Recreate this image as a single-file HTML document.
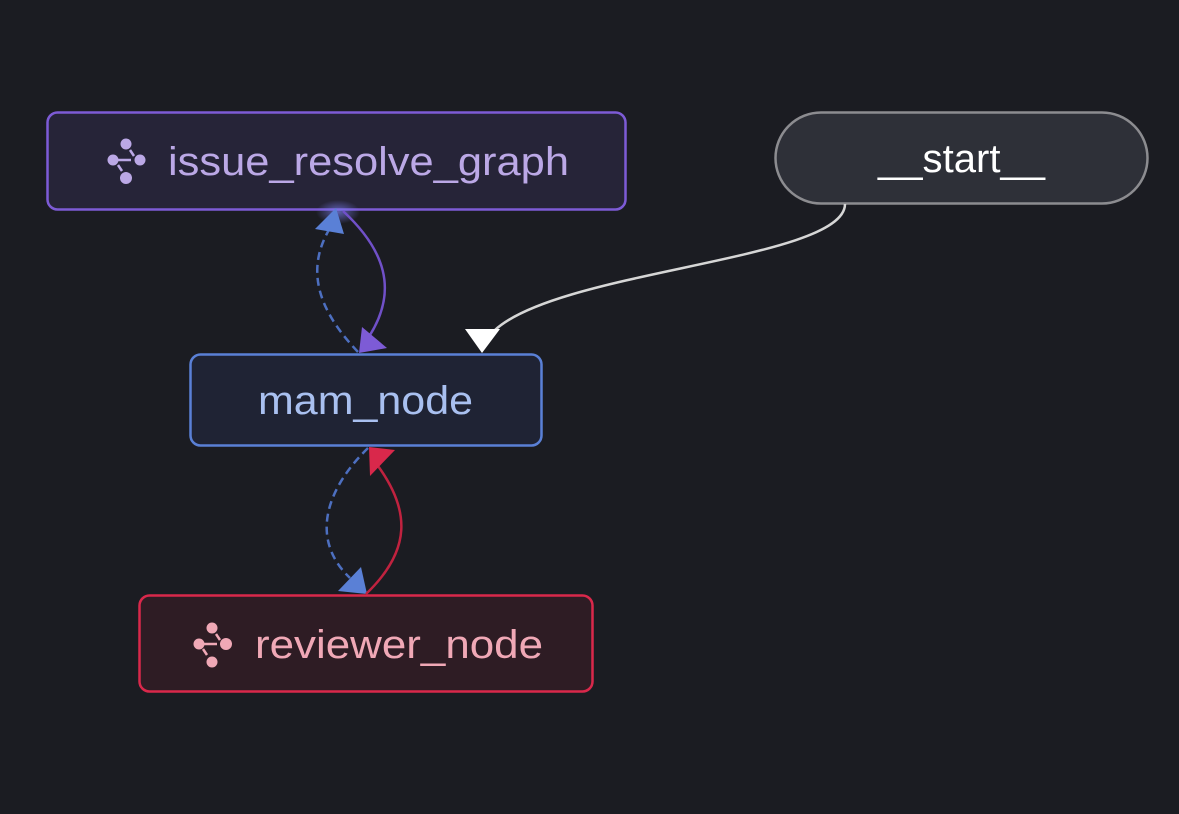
<!DOCTYPE html>
<html><head><style>
html,body{margin:0;padding:0;background:#1b1c22;}
svg{display:block}
text{font-family:"Liberation Sans",sans-serif;}
</style></head><body>
<svg width="1179" height="814" viewBox="0 0 1179 814" xmlns="http://www.w3.org/2000/svg">
<defs>
<radialGradient id="glow" cx="50%" cy="50%" r="50%">
<stop offset="0" stop-color="#7a7cf0" stop-opacity="0.7"/>
<stop offset="1" stop-color="#7a7cf0" stop-opacity="0"/>
</radialGradient>
</defs>
<rect width="1179" height="814" fill="#1b1c22"/>

<rect x="47.5" y="112.5" width="578" height="97" rx="10" fill="#262438" stroke="#7d5bd6" stroke-width="2.5"/>
<rect x="775.5" y="112.5" width="372" height="91" rx="45.5" fill="#2e3038" stroke="#8c8c90" stroke-width="2.5"/>
<rect x="190.5" y="354.5" width="351" height="91" rx="10" fill="#1f2334" stroke="#5a80d6" stroke-width="2.5"/>
<rect x="139.5" y="595.5" width="453" height="96" rx="10" fill="#2e1c24" stroke="#d9284b" stroke-width="2.5"/>
<ellipse cx="338" cy="212" rx="22" ry="12" fill="url(#glow)"/>

<g fill="#bba8e6" stroke="#bba8e6">
<circle cx="126" cy="144" r="5.5" stroke="none"/>
<circle cx="140" cy="160" r="5.5" stroke="none"/>
<circle cx="126" cy="178" r="6" stroke="none"/>
<circle cx="113" cy="160" r="5.5" stroke="none"/>
<path d="M113 160 H131 M130 150 L134 156 M118 165 L122 171" stroke-width="2.5" fill="none"/>
</g>
<g fill="#f0a8b6" stroke="#f0a8b6">
<circle cx="212" cy="628" r="5.5" stroke="none"/>
<circle cx="226" cy="644" r="6" stroke="none"/>
<circle cx="212" cy="662" r="5.5" stroke="none"/>
<circle cx="199" cy="644" r="5.5" stroke="none"/>
<path d="M199 644 H217 M216 634 L220 640 M203 649 L207 655" stroke-width="2.5" fill="none"/>
</g>

<text x="168" y="175" font-size="40" fill="#bba8e6" textLength="401" lengthAdjust="spacingAndGlyphs">issue_resolve_graph</text>
<text x="878" y="172" font-size="40" fill="#ffffff" textLength="167" lengthAdjust="spacingAndGlyphs">__start__</text>
<text x="258" y="414" font-size="40" fill="#a9c0f0" textLength="215" lengthAdjust="spacingAndGlyphs">mam_node</text>
<text x="255" y="658" font-size="40" fill="#f0a8b6" textLength="288" lengthAdjust="spacingAndGlyphs">reviewer_node</text>

<path d="M845 204 C845 260 560 270 495 330" fill="none" stroke="#d6d6d6" stroke-width="2.5"/>
<polygon points="465,329 500,329 482,353" fill="#ffffff"/>

<path d="M358 352 C318 310 305 270 330 228" fill="none" stroke="#4d6fc0" stroke-width="2.5" stroke-dasharray="8,5"/>
<polygon points="315,229 344,234 336,208" fill="#5a80d6"/>
<path d="M343 211 C385 250 398 290 370 335" fill="none" stroke="#7050c8" stroke-width="2.5"/>
<polygon points="359,353 387,348 362,327" fill="#7d5bd6"/>

<path d="M368 448 C325 490 310 540 350 578" fill="none" stroke="#4d6fc0" stroke-width="2.5" stroke-dasharray="8,5"/>
<polygon points="338,591 367,594 361,567" fill="#5a80d6"/>
<path d="M366 594 C412 550 410 510 378 466" fill="none" stroke="#c0223f" stroke-width="2.5"/>
<polygon points="369,447 395,450 370,476" fill="#d9284b"/>
</svg>
</body></html>
